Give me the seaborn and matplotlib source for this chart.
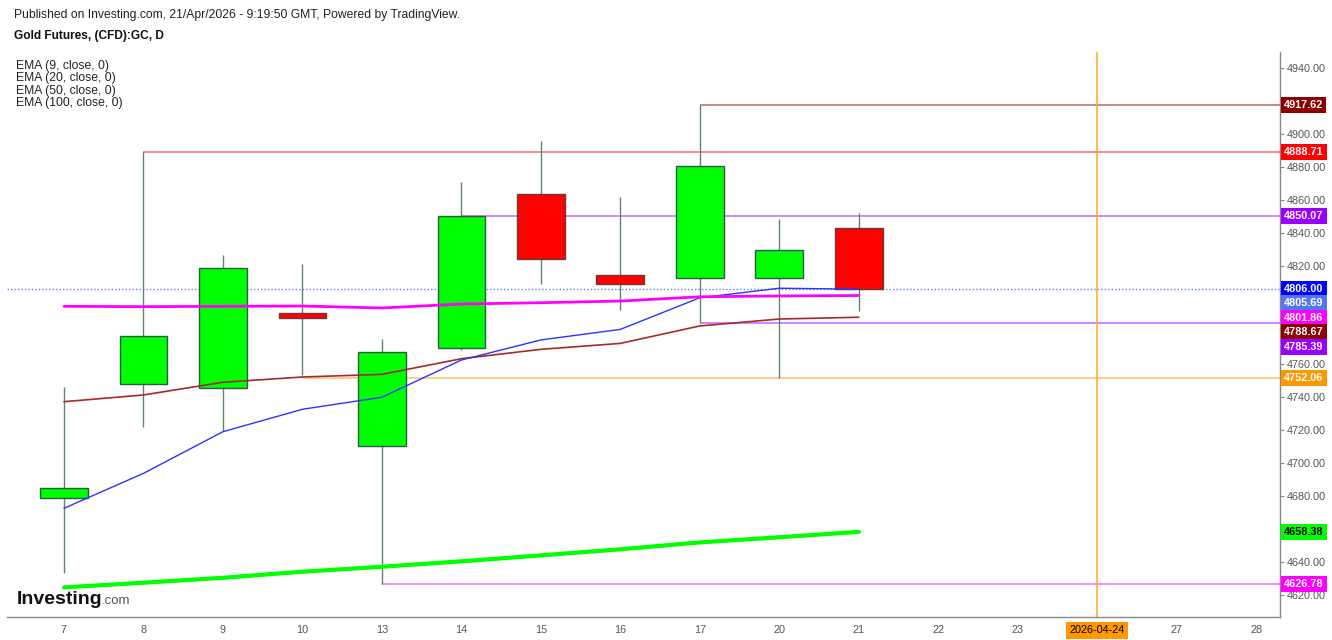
import numpy as np
import pandas as pd
import matplotlib
matplotlib.use('Agg')
import matplotlib.pyplot as plt
import seaborn as sns

# dati
days = ['7', '8', '9', '10', '13', '14', '15', '16', '17', '20', '21']
tick_labels = ['7', '8', '9', '10', '13', '14', '15', '16', '17', '20', '21',
               '22', '23', '2026-04-24', '27', '28']
opens = [4679.0, 4748.0, 4745.5, 4791.1, 4710.7, 4770.2, 4863.3, 4814.1, 4812.5, 4812.5, 4842.7]
highs = [4746.5, 4888.71, 4826.5, 4821.0, 4775.3, 4871.0, 4895.9, 4861.7, 4917.62, 4848.3, 4851.8]
lows = [4633.2, 4722.2, 4719.6, 4753.6, 4626.78, 4768.8, 4808.9, 4793.1, 4785.39, 4752.06, 4792.5]
closes = [4685.2, 4777.5, 4818.6, 4788.4, 4767.8, 4850.07, 4824.0, 4808.7, 4880.3, 4829.5, 4806.0]

ema9 = [4672.7, 4693.9, 4719.2, 4732.8, 4740.1, 4762.7, 4774.9, 4781.3, 4800.5, 4806.3, 4805.69]
ema20 = [4737.4, 4741.5, 4749.2, 4752.4, 4754.0, 4763.5, 4769.2, 4772.8, 4783.4, 4787.6, 4788.67]
ema50 = [4795.3, 4795.1, 4795.3, 4795.5, 4794.3, 4796.7, 4797.5, 4798.5, 4801.1, 4801.6, 4801.86]
ema100 = [4624.7, 4627.5, 4630.5, 4634.2, 4637.2, 4640.5, 4644.1, 4647.8, 4652.0, 4655.1, 4658.38]

# livelli orizzontali (valore, candela di partenza, colore)
level_vals = [4917.62, 4888.71, 4850.07, 4785.39, 4752.06, 4626.78]
level_start = ['17', '8', '14', '17', '10', '13']
level_colors = ['#8b0000', '#ff0000', '#9900ff', '#9900ff', '#ff9800', '#ff00ff']
last_price = 4806.00
marker_day = '2026-04-24'

df = pd.DataFrame({'day': days, 'open': opens, 'high': highs, 'low': lows, 'close': closes,
                   'ema9': ema9, 'ema20': ema20, 'ema50': ema50, 'ema100': ema100})
df['x'] = np.arange(len(df))

sns.set_style('white')
plt.rcParams['font.family'] = ['Liberation Sans', 'DejaVu Sans']

fig = plt.figure(figsize=(13.32, 6.4), dpi=100)
ax = fig.add_axes([7 / 1332, 1 - 617 / 640, (1280 - 7) / 1332, (617 - 52) / 640])

# linee orizzontali
for v, s, c in zip(level_vals, level_start, level_colors):
    ax.hlines(v, tick_labels.index(s), 20, color=c, lw=1.2, alpha=0.55, zorder=1)
ax.axhline(last_price, color='#3a5fe0', lw=1, ls=(0, (1, 1.5)), alpha=0.8, zorder=1)
ax.axvline(tick_labels.index(marker_day), color='#ffa726', lw=1.1, zorder=1)

# candele
up = df['close'] >= df['open']
ax.vlines(df['x'], df['low'], df['high'], color='#5f8472', lw=1, zorder=2)
ax.bar(df['x'], (df['close'] - df['open']).abs().clip(lower=1.5),
       bottom=df[['open', 'close']].min(axis=1), width=0.6,
       color=np.where(up, '#00ff00', '#ff0000'),
       edgecolor=np.where(up, '#2d5a48', '#6b3b3b'), linewidth=1, zorder=3)

# medie mobili
sns.lineplot(data=df, x='x', y='ema100', color='#00ff00', lw=3, ax=ax, zorder=4)
sns.lineplot(data=df, x='x', y='ema20', color='#a52a2a', lw=1.2, ax=ax, zorder=4)
sns.lineplot(data=df, x='x', y='ema9', color='#3030ff', lw=1, ax=ax, zorder=4)
sns.lineplot(data=df, x='x', y='ema50', color='#ff00ff', lw=2, ax=ax, zorder=4)

ax.set_xlim(-0.717, 15.3)
ax.set_ylim(4606.7, 4949.7)
ax.set_xlabel('')
ax.set_ylabel('')

for sp in ['left', 'top']:
    ax.spines[sp].set_visible(False)
for sp in ['right', 'bottom']:
    ax.spines[sp].set_color('#888888')
    ax.spines[sp].set_linewidth(1)

# etichette prezzi a destra
tags = [(4917.62, 4917.62, '#8b0000', 'white'),
        (4888.71, 4888.71, '#ff0000', 'white'),
        (4850.07, 4850.07, '#9900ff', 'white'),
        (last_price, 4806.0, '#0000ff', 'white'),
        (ema9[-1], 4797.2, '#5577ee', 'white'),
        (ema50[-1], 4788.4, '#ff00ff', 'white'),
        (ema20[-1], 4779.6, '#8b0000', 'white'),
        (4785.39, 4770.8, '#9900ff', 'white'),
        (4752.06, 4752.06, '#ff9800', 'white'),
        (ema100[-1], ema100[-1], '#00ff00', 'black'),
        (4626.78, 4626.78, '#ff00ff', 'white')]

yt = np.arange(4620, 4941, 20)
tag_pos = np.array([t[1] for t in tags])
ax.yaxis.tick_right()
ax.set_yticks(yt)
# le etichette coperte dai riquadri non si vedono
ax.set_yticklabels(['' if np.abs(tag_pos - v).min() < 5 else f'{v:.2f}' for v in yt])
ax.set_xticks(np.arange(len(tick_labels)))
ax.set_xticklabels(tick_labels)
ax.tick_params(axis='y', direction='out', length=3, width=0.8, colors='#888888',
               labelcolor='#555555', labelsize=7.8, pad=2)
ax.tick_params(axis='x', direction='out', length=3, width=0.8, colors='#888888',
               labelcolor='#555555', labelsize=7.8, pad=3)
for lab in ax.get_xticklabels():
    if lab.get_text() == marker_day:
        lab.set_color('black')
        lab.set_bbox(dict(facecolor='#ff9800', edgecolor='none', pad=2.5))

for val, ypos, bg, fg in tags:
    ax.annotate(f'{val:.2f}', xy=(1.0, ypos), xycoords=('axes fraction', 'data'),
                xytext=(3, 0), textcoords='offset points', va='center', ha='left',
                fontsize=7.8, fontweight='bold', color=fg, annotation_clip=False,
                bbox=dict(facecolor=bg, edgecolor='none', boxstyle='square,pad=0.28'),
                zorder=10)

# testi in alto
fig.text(14 / 1332, 1 - 15 / 640, 'Published on Investing.com, 21/Apr/2026 - 9:19:50 GMT, Powered by TradingView.',
         fontsize=8.7, va='center', color='#222222')
fig.text(14 / 1332, 1 - 36 / 640, 'Gold Futures, (CFD):GC, D', fontsize=8.6, fontweight='bold',
         va='center', color='#111111')
for i, t in enumerate(['EMA (9, close, 0)', 'EMA (20, close, 0)', 'EMA (50, close, 0)', 'EMA (100, close, 0)']):
    fig.text(16 / 1332, 1 - (66 + i * 12.3) / 640, t, fontsize=8.7, va='center', color='#222222')

# logo
fig.text(17 / 1332, 1 - 604 / 640, 'Investing', fontsize=14, fontweight='bold', va='baseline',
         color='#111111')
fig.text(102 / 1332, 1 - 604 / 640, '.com', fontsize=9.5, va='baseline', color='#555555')

fig.savefig('out.png', dpi=100)
